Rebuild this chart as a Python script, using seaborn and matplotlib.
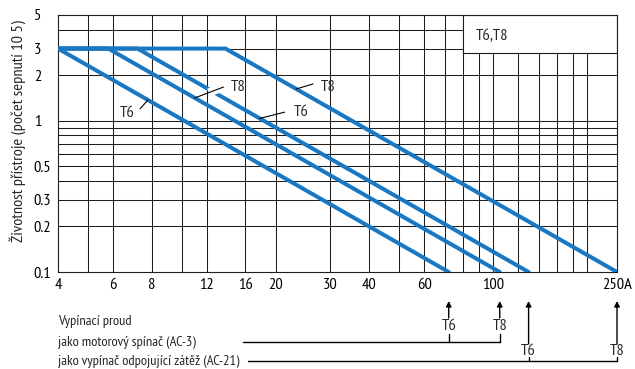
import numpy as np
import pandas as pd
import matplotlib
matplotlib.use("Agg")
import matplotlib.pyplot as plt
import seaborn as sns
from matplotlib.transforms import blended_transform_factory
from matplotlib.patches import Rectangle

# ---------------- data ----------------
series = ["T6 AC-3", "T8 AC-3", "T6 AC-21", "T8 AC-21"]
device = ["T6", "T8", "T6", "T8"]
start_current = [4, 4, 4, 4]
knee_current = [4.0, 5.8, 7.2, 13.8]
end_current = [72, 105, 130, 250]
flat_life = [3, 3, 3, 3]
end_life = [0.1, 0.1, 0.1, 0.1]

x_ticks = [4, 6, 8, 12, 16, 20, 30, 40, 60, 100, 250]
x_ticklabels = ["4", "6", "8", "12", "16", "20", "30", "40", "60", "100", "250A"]
y_ticks = [0.1, 0.2, 0.3, 0.5, 1, 2, 3, 5]
y_ticklabels = ["0.1", "0.2", "0.3", "0.5", "1", "2", "3", "5"]
x_grid = [5, 6, 8, 10, 12, 16, 20, 30, 40, 50, 60, 70, 80, 90, 100, 120, 140, 160, 180, 200]
y_grid = [0.2, 0.3, 0.4, 0.5, 0.6, 0.7, 0.8, 0.9, 1, 2, 3, 4]

ylabel = "Životnost přístroje (počet sepnutí 10 5)"
box_label = "T6,T8"
bottom_title = "Vypínací proud"
ac3_label = "jako motorový spínač (AC-3)"
ac21_label = "jako vypínač odpojující zátěž (AC-21)"

rows = []
for s, x0, xk, xe, yf, ye in zip(series, start_current, knee_current, end_current, flat_life, end_life):
    rows += [(s, x0, yf), (s, xk, yf), (s, xe, ye)]
df = pd.DataFrame(rows, columns=["series", "current", "life"])

# ---------------- style ----------------
sns.set_theme(style="white")
FONT = ["PT Sans Narrow", "DejaVu Sans"]
plt.rcParams["font.family"] = FONT
FS = 10.4
TFS = 11.8
plt.rcParams["font.size"] = FS

BLUE = "#1a78c2"
GRID = "#1e1e1e"

fig = plt.figure(figsize=(6.35, 3.69), dpi=100)
W, H = 635, 369
ax = fig.add_axes([58 / W, 1 - 272 / H, (617 - 58) / W, (272 - 15) / H])

ax.set_xscale("log")
ax.set_yscale("log")
ax.set_xlim(4, 250)
ax.set_ylim(0.1, 5)

for gx in x_grid:
    ax.axvline(gx, color=GRID, lw=0.75, zorder=1)
for gy in y_grid:
    ax.axhline(gy, color=GRID, lw=0.75, zorder=1)

# box in the top right
ax.add_patch(Rectangle((80, 2.8), 250 - 80, 5 - 2.8, facecolor="white",
                       edgecolor=GRID, lw=0.8, zorder=2))
ax.text(88, 3.6, box_label, ha="left", va="center", fontsize=TFS, zorder=3)

sns.lineplot(data=df, x="current", y="life", hue="series", palette=[BLUE] * 4,
             estimator=None, sort=False, legend=False, lw=2.9, ax=ax, zorder=4)

ax.set_xticks(x_ticks)
ax.set_xticklabels(x_ticklabels)
ax.set_yticks(y_ticks)
ax.set_yticklabels(y_ticklabels)
ax.minorticks_off()
ax.tick_params(axis="both", length=0, labelsize=TFS, colors="black")
ax.tick_params(axis="x", pad=4)
ax.tick_params(axis="y", pad=17.5)
for t in ax.get_yticklabels():
    t.set_horizontalalignment("left")
ax.set_xlabel("")
ax.set_ylabel(ylabel, fontsize=TFS)
ax.yaxis.set_label_coords((26 - 58) / 559, (272 - 131) / 257)
for sp in ax.spines.values():
    sp.set_color(GRID)
    sp.set_linewidth(0.8)


def on_line(i, x):
    """life value of series i at current x (log-log interpolation)"""
    lx = np.log10([knee_current[i], end_current[i]])
    ly = np.log10([flat_life[i], end_life[i]])
    return 10 ** np.interp(np.log10(x), lx, ly)


# labels with leader lines: (series index, text x, text y, leader start x, leader start y, leader end x)
labels = [
    (0, 6.67, 1.12, 7.34, 1.20, 7.78),
    (1, 14.4, 1.67, 13.6, 1.67, 11.0),
    (2, 22.9, 1.14, 21.4, 1.14, 17.8),
    (3, 28.0, 1.67, 26.4, 1.75, 23.3),
]
for i, tx, ty, sx, sy, ex in labels:
    ey = on_line(i, ex)
    ax.text(tx, ty, device[i], ha="center" if i == 0 else "left", va="center",
            fontsize=TFS, zorder=6)
    ax.plot([sx, ex], [sy, ey], color="black", lw=0.8, zorder=5.5)
    if i == 1:
        # small white gap where the leader crosses the neighbouring curve
        gx = np.array([12.2, 13.1])
        gy = 10 ** np.interp(np.log10(gx), np.log10([ex, sx]), np.log10([ey, sy]))
        ax.plot(gx, gy, color="white", lw=6, zorder=5, solid_capstyle="butt")

# ---------------- bottom annotation ----------------
trans = blended_transform_factory(ax.transData, fig.transFigure)


def fy(py):
    return 1 - py / H


fig.text(58 / W, fy(322), bottom_title, ha="left", va="center", fontsize=FS)
fig.text(58 / W, fy(342), ac3_label, ha="left", va="center", fontsize=FS)
fig.text(58 / W, fy(361), ac21_label, ha="left", va="center", fontsize=FS)

groups = [([0, 1], 318, 326, 334, 342, 15.7), ([2, 3], 344, 351, 357, 361, 16.3)]
for idx, tail, lab_y, stub_top, line_y, x_start in groups:
    for i in idx:
        xe = end_current[i]
        ax.annotate("", xy=(xe, fy(301)), xytext=(xe, fy(tail)), xycoords=trans,
                    textcoords=trans, annotation_clip=False,
                    arrowprops=dict(arrowstyle="-|>", color="black", lw=1.0,
                                    mutation_scale=8, shrinkA=0, shrinkB=0))
        ax.text(xe, fy(lab_y), device[i], transform=trans, ha="center", va="center",
                fontsize=TFS, clip_on=False)
        fig.add_artist(plt.Line2D([xe, xe], [fy(stub_top), fy(line_y)], transform=trans,
                                  color="black", lw=1.0))
    fig.add_artist(plt.Line2D([x_start, end_current[idx[-1]]], [fy(line_y), fy(line_y)],
                              transform=trans, color="black", lw=1.0))

fig.savefig("out.png", dpi=100)
